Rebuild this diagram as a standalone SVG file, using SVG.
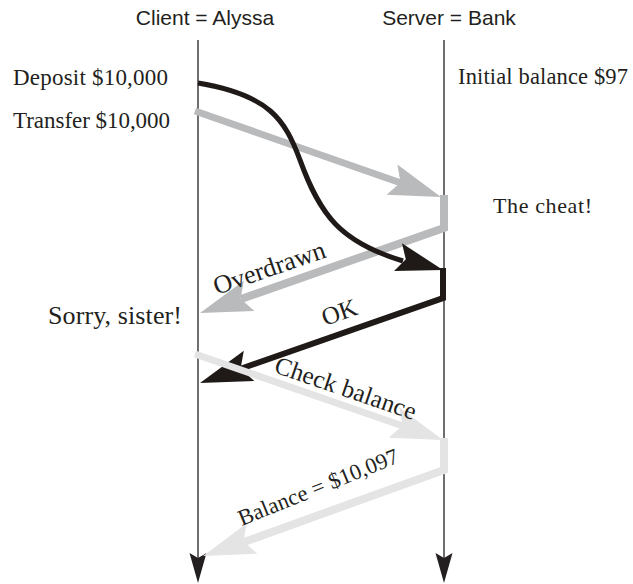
<svg xmlns="http://www.w3.org/2000/svg" xmlns:xlink="http://www.w3.org/1999/xlink" width="633" height="584" viewBox="0 0 633 584">
  <style>
    .head { font-family: "Liberation Sans", Arial, sans-serif; font-size: 21px; fill: #231f20; text-anchor: middle; }
    .note { font-family: "Liberation Serif", "Times New Roman", serif; fill: #231f20; }
    .life { stroke: #231f20; stroke-width: 1.3; fill: none; }
    .msg { fill: none; stroke-linejoin: miter; stroke-linecap: butt; }
    .black { stroke: #1f1a17; }
    .gray { stroke: #b9babc; }
    .light { stroke: #e4e4e4; }
  </style>
  <defs>
    <!-- arrowhead pointing along +x, tip at origin -->
    <polygon id="ahead" points="0,0 -52,-16 -43,0 -52,16"/>
    <polygon id="lifehead" points="0,0 -8.5,-30 0,-25 8.5,-30"/>
  </defs>

  <!-- lifelines -->
  <g id="client">
    <text class="head" x="205" y="25">Client = Alyssa</text>
    <line class="life" x1="198" y1="40" x2="198" y2="560"/>
    <use xlink:href="#lifehead" transform="translate(198,583)" fill="#231f20"/>
  </g>
  <g id="server">
    <text class="head" x="449" y="25">Server = Bank</text>
    <line class="life" x1="444" y1="40" x2="444" y2="560"/>
    <use xlink:href="#lifehead" transform="translate(444,583)" fill="#231f20"/>
  </g>

  <!-- side notes -->
  <g id="notes">
    <text class="note" x="13" y="85" font-size="23" textLength="155">Deposit $10,000</text>
    <text class="note" x="13" y="128" font-size="23" textLength="157">Transfer $10,000</text>
    <text class="note" x="458" y="84" font-size="22.5" textLength="170">Initial balance $97</text>
    <text class="note" x="493" y="213" font-size="22" textLength="99">The cheat!</text>
    <text class="note" x="48" y="324" font-size="26" textLength="134">Sorry, sister!</text>
  </g>

  <!-- messages -->
  <g id="connectors">
    <!-- transfer request, then overdrawn reply -->
    <path class="msg gray" stroke-width="7" d="M195,111 L401,183"/>
    <use xlink:href="#ahead" transform="translate(441,197) rotate(19.6)" fill="#b9babc"/>
    <path class="msg gray" stroke-width="8" d="M444,195 V228 L241,299"/>
    <use xlink:href="#ahead" transform="translate(200,313) rotate(160.8)" fill="#b9babc"/>

    <!-- deposit request, then OK reply -->
    <path class="msg black" stroke-width="5" d="M198,83 C270,95 285,120 300,160 C320,215 340,242 403,261"/>
    <use xlink:href="#ahead" transform="translate(443,270) scale(0.9) rotate(16)" fill="#1f1a17"/>
    <path class="msg black" stroke-width="6" d="M443,268 V298 L240,369"/>
    <use xlink:href="#ahead" transform="translate(200,383) rotate(160.7)" fill="#1f1a17"/>

    <!-- balance check, then balance reply -->
    <path class="msg light" stroke-width="7" d="M195,354 L403,426"/>
    <use xlink:href="#ahead" transform="translate(443,440) rotate(19.5)" fill="#e4e4e4"/>
    <path class="msg light" stroke-width="8" d="M444,438 V470 L244,542"/>
    <use xlink:href="#ahead" transform="translate(203,556) rotate(160.4)" fill="#e4e4e4"/>
  </g>

  <!-- message labels -->
  <g id="labels">
    <text class="note" font-size="26" text-anchor="middle" textLength="117" transform="translate(272,276) rotate(-19)">Overdrawn</text>
    <text class="note" font-size="25" text-anchor="middle" transform="translate(342,320) rotate(-19)">OK</text>
    <text class="note" font-size="25" text-anchor="middle" textLength="148" transform="translate(343,396) rotate(19)">Check balance</text>
    <text class="note" font-size="22.5" text-anchor="middle" textLength="171" transform="translate(321,494) rotate(-22)">Balance = $10,097</text>
  </g>
</svg>
